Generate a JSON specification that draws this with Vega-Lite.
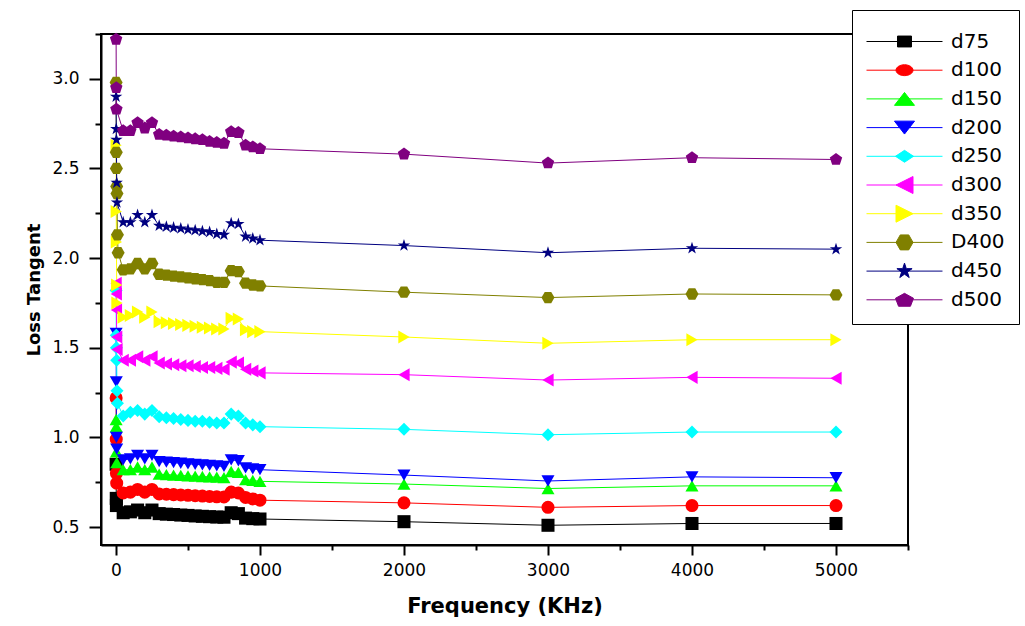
{
  "$schema": "https://vega.github.io/schema/vega-lite/v6.json",
  "width": 807,
  "height": 511,
  "autosize": {"type": "none"},
  "padding": {"left": 101, "top": 34, "right": 117, "bottom": 81},
  "background": "white",
  "data": {
    "values": [
      {"f": 1, "d75": 0.85, "d100": 1.22, "d150": 1.10, "d200": 1.58, "d250": 1.82, "d300": 1.86, "d350": 2.63, "D400": 2.98, "d450": 2.90, "d500": 3.22},
      {"f": 2, "d75": 0.66, "d100": 0.99, "d150": 1.06, "d200": 1.31, "d250": 1.57, "d300": 1.80, "d350": 2.26, "D400": 2.59, "d450": 2.72, "d500": 2.95},
      {"f": 3, "d75": 0.62, "d100": 0.80, "d150": 0.92, "d200": 1.00, "d250": 1.50, "d300": 1.71, "d350": 2.09, "D400": 2.50, "d450": 2.66, "d500": 2.83},
      {"f": 5, "d75": null, "d100": 0.745, "d150": 0.86, "d200": 0.935, "d250": 1.43, "d300": 1.56, "d350": 1.85, "D400": 2.40, "d450": 2.42, "d500": null},
      {"f": 7, "d75": null, "d100": null, "d150": null, "d200": null, "d250": 1.26, "d300": 1.49, "d350": 1.75, "D400": 2.36, "d450": 2.31, "d500": null},
      {"f": 10, "d75": null, "d100": null, "d150": null, "d200": null, "d250": 1.19, "d300": null, "d350": null, "D400": 2.13, "d450": null, "d500": null},
      {"f": 15, "d75": null, "d100": null, "d150": null, "d200": null, "d250": null, "d300": null, "d350": null, "D400": 2.03, "d450": null, "d500": null},
      {"f": 50, "d75": 0.58, "d100": 0.69, "d150": 0.82, "d200": 0.875, "d250": 1.12, "d300": 1.43, "d350": 1.67, "D400": 1.935, "d450": 2.20, "d500": 2.71},
      {"f": 100, "d75": 0.585, "d100": 0.695, "d150": 0.82, "d200": 0.88, "d250": 1.14, "d300": 1.43, "d350": 1.68, "D400": 1.94, "d450": 2.20, "d500": 2.71},
      {"f": 150, "d75": 0.595, "d100": 0.71, "d150": 0.835, "d200": 0.90, "d250": 1.15, "d300": 1.45, "d350": 1.70, "D400": 1.97, "d450": 2.24, "d500": 2.755},
      {"f": 200, "d75": 0.58, "d100": 0.695, "d150": 0.82, "d200": 0.88, "d250": 1.13, "d300": 1.43, "d350": 1.67, "D400": 1.94, "d450": 2.20, "d500": 2.725},
      {"f": 250, "d75": 0.595, "d100": 0.71, "d150": 0.835, "d200": 0.90, "d250": 1.15, "d300": 1.45, "d350": 1.70, "D400": 1.97, "d450": 2.24, "d500": 2.755},
      {"f": 300, "d75": 0.575, "d100": 0.685, "d150": 0.795, "d200": 0.865, "d250": 1.115, "d300": 1.415, "d350": 1.645, "D400": 1.91, "d450": 2.18, "d500": 2.69},
      {"f": 350, "d75": 0.572, "d100": 0.683, "d150": 0.793, "d200": 0.862, "d250": 1.11, "d300": 1.41, "d350": 1.64, "D400": 1.905, "d450": 2.175, "d500": 2.685},
      {"f": 400, "d75": 0.570, "d100": 0.681, "d150": 0.790, "d200": 0.859, "d250": 1.105, "d300": 1.405, "d350": 1.635, "D400": 1.90, "d450": 2.17, "d500": 2.68},
      {"f": 450, "d75": 0.567, "d100": 0.679, "d150": 0.788, "d200": 0.856, "d250": 1.10, "d300": 1.40, "d350": 1.63, "D400": 1.895, "d450": 2.165, "d500": 2.675},
      {"f": 500, "d75": 0.565, "d100": 0.677, "d150": 0.786, "d200": 0.853, "d250": 1.095, "d300": 1.40, "d350": 1.625, "D400": 1.89, "d450": 2.16, "d500": 2.67},
      {"f": 550, "d75": 0.562, "d100": 0.675, "d150": 0.784, "d200": 0.850, "d250": 1.09, "d300": 1.395, "d350": 1.62, "D400": 1.885, "d450": 2.155, "d500": 2.665},
      {"f": 600, "d75": 0.560, "d100": 0.673, "d150": 0.782, "d200": 0.847, "d250": 1.09, "d300": 1.39, "d350": 1.615, "D400": 1.88, "d450": 2.15, "d500": 2.66},
      {"f": 650, "d75": 0.558, "d100": 0.671, "d150": 0.780, "d200": 0.844, "d250": 1.085, "d300": 1.39, "d350": 1.61, "D400": 1.875, "d450": 2.145, "d500": 2.65},
      {"f": 700, "d75": 0.556, "d100": 0.669, "d150": 0.778, "d200": 0.841, "d250": 1.08, "d300": 1.385, "d350": 1.605, "D400": 1.865, "d450": 2.135, "d500": 2.645},
      {"f": 750, "d75": 0.555, "d100": 0.668, "d150": 0.776, "d200": 0.838, "d250": 1.08, "d300": 1.38, "d350": 1.605, "D400": 1.865, "d450": 2.13, "d500": 2.64},
      {"f": 800, "d75": 0.58, "d100": 0.695, "d150": 0.81, "d200": 0.875, "d250": 1.13, "d300": 1.42, "d350": 1.665, "D400": 1.93, "d450": 2.195, "d500": 2.705},
      {"f": 850, "d75": 0.575, "d100": 0.69, "d150": 0.805, "d200": 0.87, "d250": 1.12, "d300": 1.415, "d350": 1.66, "D400": 1.925, "d450": 2.19, "d500": 2.70},
      {"f": 900, "d75": 0.55, "d100": 0.665, "d150": 0.765, "d200": 0.83, "d250": 1.08, "d300": 1.38, "d350": 1.60, "D400": 1.86, "d450": 2.12, "d500": 2.63},
      {"f": 950, "d75": 0.547, "d100": 0.657, "d150": 0.76, "d200": 0.825, "d250": 1.07, "d300": 1.37, "d350": 1.59, "D400": 1.85, "d450": 2.11, "d500": 2.62},
      {"f": 1000, "d75": 0.545, "d100": 0.65, "d150": 0.755, "d200": 0.82, "d250": 1.06, "d300": 1.36, "d350": 1.59, "D400": 1.845, "d450": 2.10, "d500": 2.61},
      {"f": 2000, "d75": 0.53, "d100": 0.635, "d150": 0.74, "d200": 0.79, "d250": 1.045, "d300": 1.35, "d350": 1.56, "D400": 1.81, "d450": 2.07, "d500": 2.58},
      {"f": 3000, "d75": 0.51, "d100": 0.61, "d150": 0.715, "d200": 0.757, "d250": 1.015, "d300": 1.32, "d350": 1.525, "D400": 1.78, "d450": 2.03, "d500": 2.53},
      {"f": 4000, "d75": 0.52, "d100": 0.62, "d150": 0.73, "d200": 0.78, "d250": 1.03, "d300": 1.335, "d350": 1.545, "D400": 1.80, "d450": 2.055, "d500": 2.56},
      {"f": 5000, "d75": 0.52, "d100": 0.62, "d150": 0.73, "d200": 0.775, "d250": 1.03, "d300": 1.33, "d350": 1.545, "D400": 1.795, "d450": 2.05, "d500": 2.55}
    ]
  },
  "transform": [
    {"fold": ["d75", "d100", "d150", "d200", "d250", "d300", "d350", "D400", "d450", "d500"], "as": ["series", "value"]},
    {"filter": "isValid(datum.value)"}
  ],
  "encoding": {
    "x": {
      "field": "f", "type": "quantitative",
      "scale": {"domain": [-104, 5500], "nice": false, "zero": false},
      "axis": {
        "title": "Frequency (KHz)",
        "values": [0, 500, 1000, 1500, 2000, 2500, 3000, 3500, 4000, 4500, 5000, 5500],
        "format": "d",
        "labelExpr": "datum.value % 1000 == 0 ? datum.label : ''",
        "tickSize": {"condition": {"test": "datum.value % 1000 == 0", "value": 10}, "value": 5},
        "labelPadding": 7,
        "titlePadding": 17,
        "titleFontSize": 21
      }
    },
    "y": {
      "field": "value", "type": "quantitative",
      "scale": {"domain": [0.4, 3.25], "nice": false, "zero": false},
      "axis": {
        "title": "Loss Tangent",
        "values": [0.5, 0.75, 1.0, 1.25, 1.5, 1.75, 2.0, 2.25, 2.5, 2.75, 3.0, 3.25],
        "format": ".1f",
        "labelExpr": "datum.value % 0.5 == 0 ? datum.label : ''",
        "tickSize": {"condition": {"test": "datum.value % 0.5 == 0", "value": 12}, "value": 6},
        "labelPadding": 10,
        "titlePadding": 8,
        "titleFontSize": 18
      }
    },
    "color": {
      "field": "series", "type": "nominal",
      "sort": ["d75", "d100", "d150", "d200", "d250", "d300", "d350", "D400", "d450", "d500"],
      "scale": {
        "domain": ["d75", "d100", "d150", "d200", "d250", "d300", "d350", "D400", "d450", "d500"],
        "range": ["#000000", "#FF0000", "#00FF00", "#0000FF", "#00FFFF", "#FF00FF", "#FFFF00", "#808000", "#000080", "#800080"]
      },
      "legend": {
        "orient": "none", "legendX": 751, "legendY": -24,
        "title": null,
        "symbolSize": 1156, "symbolStrokeWidth": 1,
        "symbolOffset": 21,
        "rowPadding": 0.7,
        "padding": 14,
        "labelFontSize": 20, "labelOffset": 29, "labelLimit": 200,
        "strokeColor": "black", "fillColor": "white",
        "encode": {
          "symbols": {
            "update": {
              "shape": {"signal": "datum.value == 'd75' ? 'M-2.235,0L2.235,0M-0.41,-0.32L0.41,-0.32L0.41,0.32L-0.41,0.32Z' : datum.value == 'd100' ? 'M-2.235,0L2.235,0M-0.5,0A0.5,0.32 0 1,0 0.5,0A0.5,0.32 0 1,0 -0.5,0Z' : datum.value == 'd150' ? 'M-2.235,0L2.235,0M0,-0.38L0.59,0.38L-0.59,0.38Z' : datum.value == 'd200' ? 'M-2.235,0L2.235,0M0,0.38L0.59,-0.38L-0.59,-0.38Z' : datum.value == 'd250' ? 'M-2.235,0L2.235,0M0,-0.35L0.53,0L0,0.35L-0.53,0Z' : datum.value == 'd300' ? 'M-2.235,0L2.235,0M-0.5,0L0.5,-0.5L0.5,0.5Z' : datum.value == 'd350' ? 'M-2.235,0L2.235,0M0.5,0L-0.5,-0.5L-0.5,0.5Z' : datum.value == 'D400' ? 'M-2.235,0L2.235,0M-0.5,0L-0.25,-0.44L0.25,-0.44L0.5,0L0.25,0.44L-0.25,0.44Z' : datum.value == 'd450' ? 'M-2.235,0L2.235,0M0,-0.47L0.106,-0.145L0.447,-0.145L0.171,0.055L0.276,0.38L0,0.18L-0.276,0.38L-0.171,0.055L-0.447,-0.145L-0.106,-0.145Z' : 'M-2.235,0L2.235,0M0,-0.38L0.53,-0.09L0.35,0.38L-0.35,0.38L-0.53,-0.09Z'"},
              "fill": {"scale": "color", "field": "value"},
              "stroke": {"scale": "color", "field": "value"},
              "strokeWidth": {"value": 1},
              "size": {"value": 1156},
              "opacity": {"value": 1},
              "fillOpacity": {"value": 1}
            }
          }
        }
      }
    }
  },
  "layer": [
    {
      "mark": {"type": "line", "strokeWidth": 1}
    },
    {
      "mark": {"type": "point", "filled": true, "size": 170, "opacity": 1},
      "encoding": {
        "shape": {
          "field": "series", "type": "nominal",
          "scale": {
            "domain": ["d500", "d450", "D400", "d350", "d300", "d250", "d200", "d150", "d100", "d75"],
            "range": [
              "M0,-1L0.9511,-0.309L0.5878,0.809L-0.5878,0.809L-0.9511,-0.309Z",
              "M0,-1L0.2245,-0.309L0.9511,-0.309L0.3633,0.118L0.5878,0.809L0,0.382L-0.5878,0.809L-0.3633,0.118L-0.9511,-0.309L-0.2245,-0.309Z",
              "M-1,0L-0.5,-0.866L0.5,-0.866L1,0L0.5,0.866L-0.5,0.866Z",
              "triangle-right", "triangle-left", "diamond", "triangle-down", "triangle-up", "circle", "square"]
          },
          "legend": null
        }
      }
    }
  ],
  "config": {
    "font": "DejaVu Sans",
    "view": {"stroke": "black", "strokeWidth": 2},
    "axis": {
      "grid": false,
      "domainColor": "black", "domainWidth": 2,
      "tickColor": "black", "tickWidth": 2,
      "labelFont": "DejaVu Sans", "labelFontSize": 17, "labelColor": "black",
      "titleFont": "DejaVu Sans", "titleFontWeight": "bold", "titleColor": "black"
    },
    "legend": {"labelFont": "DejaVu Sans", "labelColor": "black"}
  }
}
